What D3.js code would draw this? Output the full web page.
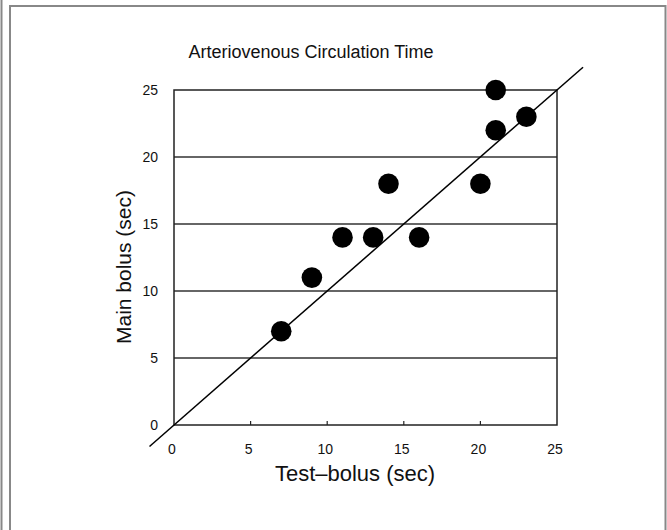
<!DOCTYPE html>
<html>
<head>
<meta charset="utf-8">
<script src="https://cdn.jsdelivr.net/npm/d3@7"></script>
<style>
  body { margin: 0; background: #fff; }
  text { font-family: "Liberation Sans", Arial, sans-serif; fill: #111; }
</style>
</head>
<body>
<script>
// data
var testBolus = [7, 9, 11, 13, 14, 16, 20, 21, 21, 23];
var mainBolus = [7, 11, 14, 14, 18, 14, 18, 22, 25, 23];
var xTicks = [0, 5, 10, 15, 20, 25];
var yTicks = [0, 5, 10, 15, 20, 25];
var gridValues = [5, 10, 15, 20];
var identityLine = [-1.6, 26.7];

var width = 667, height = 530;
var svg = d3.select('body').append('svg')
    .attr('width', width)
    .attr('height', height);

// page frame
var frame = svg.append('g').attr('stroke', '#888').attr('stroke-width', 2).attr('fill', 'none');
frame.append('line').attr('x1', 1.5).attr('y1', 0).attr('x2', 1.5).attr('y2', height);
frame.append('path').attr('d', 'M10,' + height + 'V6H665.5V' + height);

var x = d3.scaleLinear().domain([0, 25]).range([174, 557]);
var y = d3.scaleLinear().domain([0, 25]).range([425, 90]);

// horizontal grid lines
svg.selectAll('line.grid')
    .data(gridValues)
    .enter().append('line')
    .attr('class', 'grid')
    .attr('x1', x(0)).attr('x2', x(25))
    .attr('y1', function(d) { return y(d); })
    .attr('y2', function(d) { return y(d); })
    .style('stroke', '#333')
    .style('stroke-width', 1.4);

// box around plot
svg.append('rect')
    .attr('x', x(0)).attr('y', y(25))
    .attr('width', x(25) - x(0)).attr('height', y(0) - y(25))
    .style('fill', 'none').style('stroke', '#222').style('stroke-width', 1.5);

// x ticks (small, pointing up) and labels
svg.selectAll('line.xtick')
    .data(xTicks.slice(1, -1))
    .enter().append('line')
    .attr('x1', function(d) { return x(d); })
    .attr('x2', function(d) { return x(d); })
    .attr('y1', y(0)).attr('y2', y(0) - 4)
    .style('stroke', '#222').style('stroke-width', 1.2);

svg.selectAll('text.xtick')
    .data(xTicks)
    .enter().append('text')
    .attr('x', function(d) { return x(d) - 2; })
    .attr('y', y(0) + 29)
    .attr('text-anchor', 'middle')
    .style('font-size', '14px')
    .text(function(d) { return d; });

svg.selectAll('text.ytick')
    .data(yTicks)
    .enter().append('text')
    .attr('x', 158)
    .attr('y', function(d) { return y(d) + 5; })
    .attr('text-anchor', 'end')
    .style('font-size', '14px')
    .text(function(d) { return d; });

// y = x reference line
svg.append('line')
    .attr('x1', x(identityLine[0])).attr('y1', y(identityLine[0]))
    .attr('x2', x(identityLine[1])).attr('y2', y(identityLine[1]))
    .style('stroke', '#000').style('stroke-width', 1.5);

// points
svg.selectAll('circle.pt')
    .data(testBolus)
    .enter().append('circle')
    .attr('cx', function(d) { return x(d); })
    .attr('cy', function(d, i) { return y(mainBolus[i]); })
    .attr('r', 10.3)
    .style('fill', '#000');

// titles
svg.append('text')
    .attr('x', 311).attr('y', 58)
    .attr('text-anchor', 'middle')
    .style('font-size', '18px')
    .text('Arteriovenous Circulation Time');

svg.append('text')
    .attr('x', 355).attr('y', 481)
    .attr('text-anchor', 'middle')
    .style('font-size', '22px')
    .text('Test\u2013bolus (sec)');

svg.append('text')
    .attr('transform', 'translate(131,267) rotate(-90)')
    .attr('text-anchor', 'middle')
    .style('font-size', '21px')
    .text('Main bolus (sec)');
</script>
</body>
</html>
